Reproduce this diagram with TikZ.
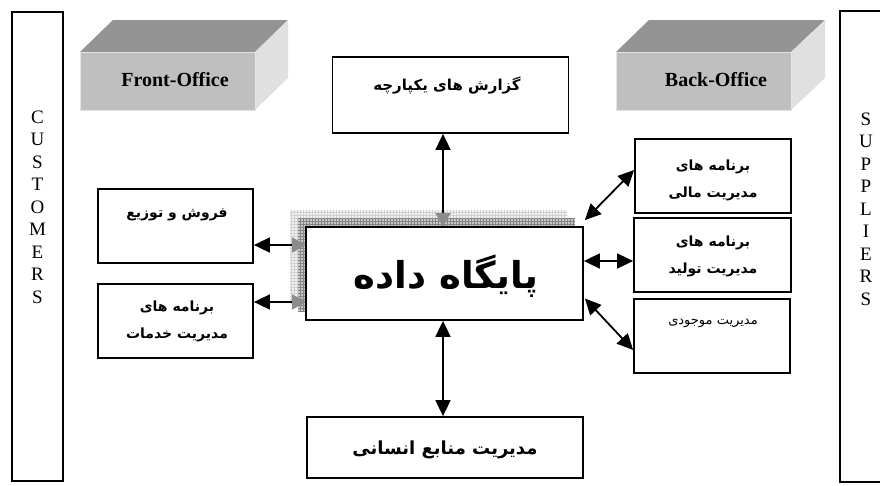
\documentclass[tikz,border=0pt]{standalone}
\usepackage{fontspec}
\setmainfont{Liberation Serif}
\newfontfamily\fa[Script=Arabic]{DejaVu Sans}
\TeXXeTstate=1
\usetikzlibrary{arrows.meta,patterns}
\begin{document}
\begin{tikzpicture}[x=1pt,y=-1pt,
  box/.style={draw=black,line width=1.8pt,fill=white,inner sep=0pt},
  sidebox/.style={draw=black,line width=2.2pt,fill=white,inner sep=0pt},
  conn/.style={line width=1.8pt,arrows={Triangle[length=16pt,width=15pt]-Triangle[length=16pt,width=15pt]}},
  gconn/.style={line width=1.8pt,arrows={Triangle[length=16pt,width=15pt]-Triangle[length=14pt,width=15pt,color=black!45]}},
  fabold/.style={font={\fa\bfseries\fontsize{14}{27}\selectfont},align=center,inner sep=0pt},
  faplain/.style={font={\fa\fontsize{13}{27}\selectfont},align=center,inner sep=0pt},
  latin/.style={font={\bfseries\fontsize{20}{24}\selectfont},inner sep=0pt},
  letters/.style={font={\fontsize{19}{22.5}\selectfont},align=center,inner sep=0pt},
  topface/.style={fill=black!42},
  frontface/.style={fill=black!25,draw=black!10,line width=1pt,inner sep=0pt},
  sideface/.style={fill=black!12}]
\useasboundingbox (0,0) rectangle (880,485);

% side boxes
\node[sidebox,minimum width=51pt,minimum height=469pt] (cust) at (37.5,246.5) {};
\node[letters] (custtxt) at (37.5,207) {C\\U\\S\\T\\O\\M\\E\\R\\S};
\node[sidebox,minimum width=60pt,minimum height=471pt] (supp) at (870,246.5) {};
\node[letters] (supptxt) at (866,209) {S\\U\\P\\P\\L\\I\\E\\R\\S};

% Front-Office block
\fill[topface] (80,52) -- (113,20) -- (288,20) -- (255,52) -- cycle;
\fill[sideface] (255,52) -- (288,20) -- (288,78) -- (255,110) -- cycle;
\node[frontface,minimum width=175pt,minimum height=58pt] (front) at (167.5,81) {};
\node[latin] (fronttxt) at (175,80) {Front-Office};

% Back-Office block
\fill[topface] (616,52) -- (649,20) -- (825,20) -- (791,52) -- cycle;
\fill[sideface] (791,52) -- (825,20) -- (825,78) -- (791,110) -- cycle;
\node[frontface,minimum width=175pt,minimum height=58pt] (back) at (703.5,81) {};
\node[latin] (backtxt) at (716,80) {Back-Office};

% boxes
\node[box,minimum width=236pt,minimum height=76pt] (top) at (450.5,95) {};
\node[fabold,font={\fa\bfseries\fontsize{15}{27}\selectfont}] (toptxt) at (447,86) {\beginR گزارش های یکپارچه\endR};

\node[box,minimum width=155pt,minimum height=74pt] (sales) at (175.5,226) {};
\node[fabold] (salestxt) at (177,215) {\beginR فروش و توزیع\endR};

\node[box,minimum width=155pt,minimum height=74pt] (serv) at (175.5,321) {};
\node[fabold] (servtxt) at (177,321) {\beginR برنامه های\endR\\\beginR مدیریت خدمات\endR};

\node[box,minimum width=156pt,minimum height=74pt] (fin) at (713,176) {};
\node[fabold] (fintxt) at (713,180) {\beginR برنامه های\endR\\\beginR مدیریت مالی\endR};

\node[box,minimum width=157pt,minimum height=74pt] (prod) at (712.5,255) {};
\node[fabold] (prodtxt) at (713,256) {\beginR برنامه های\endR\\\beginR مدیریت تولید\endR};

\node[box,minimum width=156pt,minimum height=74pt] (inv) at (712,336) {};
\node[faplain] (invtxt) at (713,323) {\beginR مدیریت موجودی\endR};

\node[box,minimum width=276pt,minimum height=61pt] (hr) at (445,447.5) {};
\node[fabold,font={\fa\bfseries\fontsize{18}{27}\selectfont}] (hrtxt) at (445,450) {\beginR مدیریت منابع انسانی\endR};

% helper coordinates
\coordinate (cx) at (443,0);
\coordinate (ys) at (0,245);
\coordinate (yv) at (0,302);
\coordinate (yp) at (0,261);

% database shadows
\path[preaction={fill=black!5},pattern=grid,pattern color=black!18] (290,210) rectangle (567,303);
\path[preaction={fill=black!22},pattern=grid,pattern color=black!48] (298,218) rectangle (575,311);

% connectors (gray tips at database end)
\draw[gconn] (top.south -| cx) -- (443,227);
\draw[gconn] (sales.east |- ys) -- (306,245);
\draw[gconn] (serv.east |- yv) -- (306,302);

% database box
\node[box,minimum width=277pt,minimum height=93pt] (db) at (444.5,273.5) {};
\node[inner sep=0pt,font={\fa\bfseries\fontsize{37}{44}\selectfont}] (dbtxt) at (446,276) {\beginR پایگاه داده\endR};

% right and bottom connectors
\draw[conn] ([xshift=1pt,yshift=6pt]db.north east) -- ([yshift=6pt]fin.west);
\draw[conn] (db.east |- yp) -- (prod.west |- yp);
\draw[conn] ([xshift=1pt,yshift=-25pt]db.east) -- ([yshift=-14pt]inv.west);
\draw[conn] (db.south -| cx) -- (hr.north -| cx);
\end{tikzpicture}
\end{document}
